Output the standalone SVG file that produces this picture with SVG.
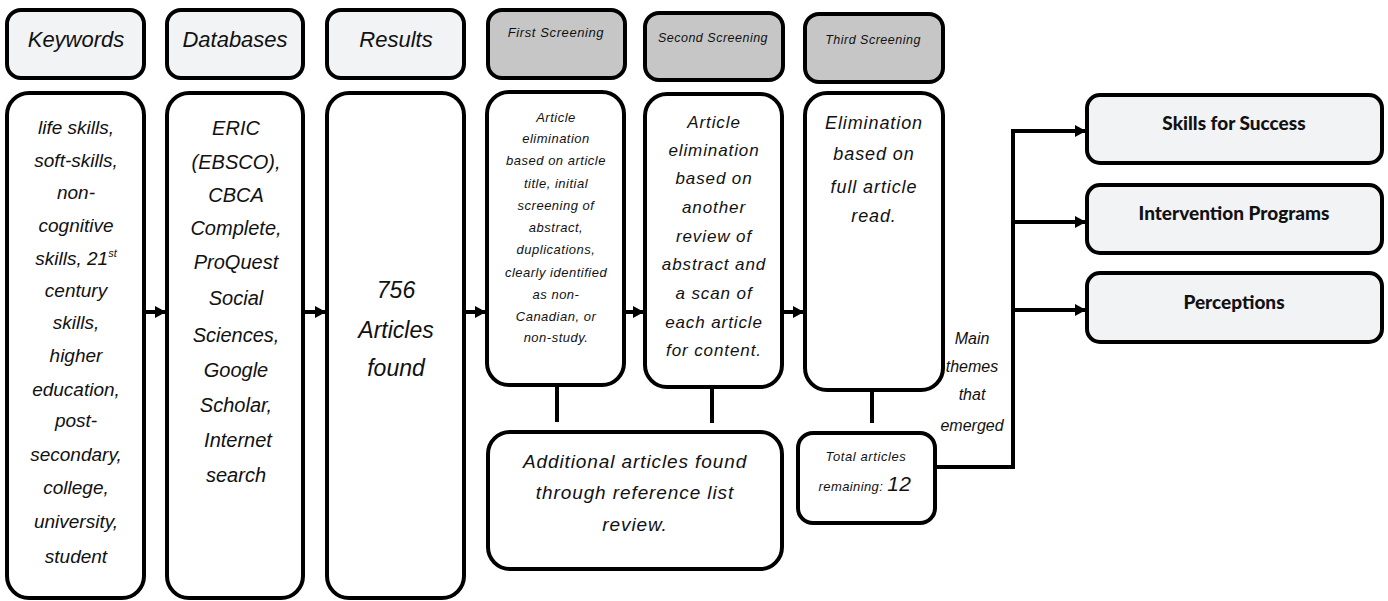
<svg xmlns="http://www.w3.org/2000/svg" width="1388" height="601" viewBox="0 0 1388 601">
<style>
.box{fill:#ffffff;stroke:#000;stroke-width:4}
.hdr{fill:#f2f3f5;stroke:#000;stroke-width:4}
.scr{fill:#c6c6c6;stroke:#000;stroke-width:4}
.t{font-family:"Liberation Sans",Arial,sans-serif;font-style:italic;fill:#111;text-anchor:middle}
.b{font-family:Lato,"Open Sans",sans-serif;font-weight:900;fill:#111;text-anchor:middle;font-size:19px}
.c{stroke:#000;stroke-width:4;fill:none}
</style>
<defs>
<marker id="ah" markerUnits="userSpaceOnUse" markerWidth="11" markerHeight="12" refX="11" refY="6" orient="auto">
<path d="M0,0 L11,6 L0,12 z" fill="#000"/>
</marker>
</defs>
<rect width="1388" height="601" fill="#fff"/>

<g id="connectors">
<line class="c" x1="145" y1="312" x2="166" y2="312" marker-end="url(#ah)"/>
<line class="c" x1="304" y1="312" x2="326" y2="312" marker-end="url(#ah)"/>
<line class="c" x1="465" y1="312" x2="486" y2="312" marker-end="url(#ah)"/>
<line class="c" x1="625" y1="312" x2="644" y2="312" marker-end="url(#ah)"/>
<line class="c" x1="783" y1="312" x2="804" y2="312" marker-end="url(#ah)"/>
<line class="c" x1="557" y1="386" x2="557" y2="422"/>
<line class="c" x1="712" y1="388" x2="712" y2="423"/>
<line class="c" x1="872" y1="391" x2="872" y2="423"/>
<path class="c" d="M937 467 H1013 V131"/>
<line class="c" x1="1011" y1="131" x2="1086" y2="131" marker-end="url(#ah)"/>
<line class="c" x1="1013" y1="222" x2="1086" y2="222" marker-end="url(#ah)"/>
<line class="c" x1="1013" y1="310" x2="1086" y2="310" marker-end="url(#ah)"/>
<g class="t" font-size="16">
<text x="972" y="344">Main</text>
<text x="972" y="372">themes</text>
<text x="972" y="400">that</text>
<text x="972" y="431">emerged</text>
</g>
</g>

<g id="keywords-header">
<rect class="hdr" x="7" y="10" width="137" height="68" rx="14"/>
<text class="t" x="76" y="47" font-size="22">Keywords</text>
</g>
<g id="databases-header">
<rect class="hdr" x="167" y="10" width="136" height="68" rx="14"/>
<text class="t" x="235" y="47" font-size="22">Databases</text>
</g>
<g id="results-header">
<rect class="hdr" x="327" y="10" width="137" height="68" rx="14"/>
<text class="t" x="396" y="47" font-size="22">Results</text>
</g>
<g id="first-header">
<rect class="scr" x="488" y="10" width="137" height="68" rx="14"/>
<text class="t" x="556" y="37" font-size="13" letter-spacing="0.6">First Screening</text>
</g>
<g id="second-header">
<rect class="scr" x="645" y="13" width="138" height="67" rx="14"/>
<text class="t" x="713" y="42" font-size="12.5" letter-spacing="0.5">Second Screening</text>
</g>
<g id="third-header">
<rect class="scr" x="805" y="14" width="138" height="68" rx="14"/>
<text class="t" x="873" y="44" font-size="12.5" letter-spacing="0.5">Third Screening</text>
</g>

<g id="keywords">
<rect class="box" x="7" y="93" width="137" height="505" rx="22"/>
<g class="t" font-size="19">
<text x="76" y="134">life skills,</text>
<text x="76" y="167">soft-skills,</text>
<text x="76" y="199">non-</text>
<text x="76" y="232">cognitive</text>
<text x="76" y="265">skills, 21<tspan font-size="11" dy="-8">st</tspan></text>
<text x="76" y="297">century</text>
<text x="76" y="329">skills,</text>
<text x="76" y="362">higher</text>
<text x="76" y="396">education,</text>
<text x="76" y="427">post-</text>
<text x="76" y="461">secondary,</text>
<text x="76" y="494">college,</text>
<text x="76" y="528">university,</text>
<text x="76" y="563">student</text>
</g>
</g>

<g id="databases">
<rect class="box" x="167" y="93" width="136" height="505" rx="22"/>
<g class="t" font-size="20">
<text x="236" y="135">ERIC</text>
<text x="236" y="169">(EBSCO),</text>
<text x="236" y="202">CBCA</text>
<text x="236" y="235">Complete,</text>
<text x="236" y="269">ProQuest</text>
<text x="236" y="305">Social</text>
<text x="236" y="342">Sciences,</text>
<text x="236" y="377">Google</text>
<text x="236" y="412">Scholar,</text>
<text x="238" y="447">Internet</text>
<text x="236" y="482">search</text>
</g>
</g>

<g id="results">
<rect class="box" x="327" y="93" width="137" height="505" rx="22"/>
<g class="t" font-size="23">
<text x="396" y="298">756</text>
<text x="396" y="338">Articles</text>
<text x="396" y="376">found</text>
</g>
</g>

<g id="first-screening">
<rect class="box" x="487" y="92" width="137" height="293" rx="22"/>
<g class="t" font-size="13" letter-spacing="0.5">
<text x="556" y="122">Article</text>
<text x="556" y="143">elimination</text>
<text x="556" y="165">based on article</text>
<text x="556" y="188">title, initial</text>
<text x="556" y="210">screening of</text>
<text x="556" y="232">abstract,</text>
<text x="556" y="254">duplications,</text>
<text x="556" y="277">clearly identified</text>
<text x="556" y="299">as non-</text>
<text x="556" y="321">Canadian, or</text>
<text x="556" y="342">non-study.</text>
</g>
</g>

<g id="second-screening">
<rect class="box" x="645" y="94" width="137" height="293" rx="22"/>
<g class="t" font-size="17" letter-spacing="0.9">
<text x="714" y="128">Article</text>
<text x="714" y="156">elimination</text>
<text x="714" y="184">based on</text>
<text x="714" y="213">another</text>
<text x="714" y="242">review of</text>
<text x="714" y="270">abstract and</text>
<text x="714" y="299">a scan of</text>
<text x="714" y="328">each article</text>
<text x="714" y="356">for content.</text>
</g>
</g>

<g id="third-screening">
<rect class="box" x="805" y="93" width="138" height="297" rx="22"/>
<g class="t" font-size="18" letter-spacing="0.9">
<text x="874" y="129">Elimination</text>
<text x="874" y="160">based on</text>
<text x="874" y="193">full article</text>
<text x="874" y="222">read.</text>
</g>
</g>

<g id="additional">
<rect class="box" x="488" y="432" width="294" height="137" rx="22"/>
<g class="t" font-size="19" letter-spacing="0.9">
<text x="635" y="468">Additional articles found</text>
<text x="635" y="499">through reference list</text>
<text x="635" y="531">review.</text>
</g>
</g>

<g id="total">
<rect class="box" x="798" y="433" width="137" height="90" rx="15"/>
<text class="t" x="866" y="461" font-size="13" letter-spacing="0.6">Total articles</text>
<text class="t" x="865" y="491" font-size="13" letter-spacing="0.4">remaining: <tspan font-size="21">12</tspan></text>
</g>

<g id="skills">
<rect class="hdr" x="1087" y="95" width="295" height="68" rx="13"/>
<text class="b" x="1234" y="130">Skills for Success</text>
</g>
<g id="intervention">
<rect class="hdr" x="1087" y="185" width="295" height="68" rx="13"/>
<text class="b" x="1234" y="220">Intervention Programs</text>
</g>
<g id="perceptions">
<rect class="hdr" x="1087" y="273" width="295" height="69" rx="13"/>
<text class="b" x="1234" y="309">Perceptions</text>
</g>
</svg>
